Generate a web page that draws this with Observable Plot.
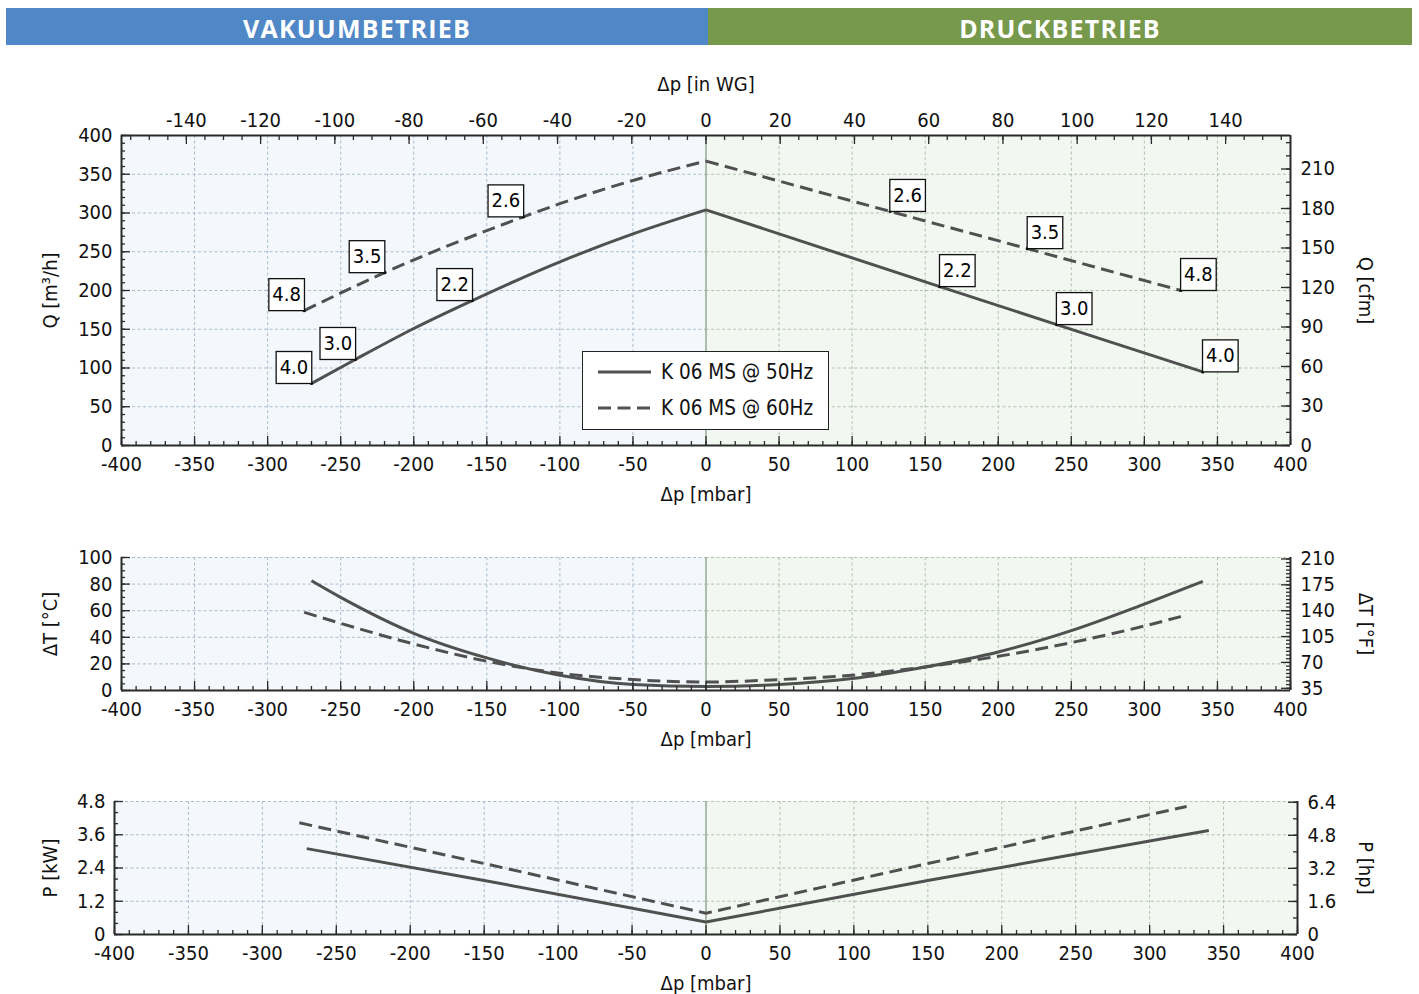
<!DOCTYPE html>
<html>
<head>
<meta charset="utf-8">
<script src="https://cdn.jsdelivr.net/npm/d3@7"></script>
<script src="https://cdn.jsdelivr.net/npm/@observablehq/plot@0.6"></script>
<style>
  html, body { margin: 0; padding: 0; background: #fff; }
  body { position: relative; width: 1419px; height: 994px; overflow: hidden; }
  .hdr { position: absolute; top: 8px; height: 37px; color: #fff; font-family: "Open Sans", sans-serif; font-weight: 700; font-size: 25px; letter-spacing: 1.2px; display: flex; align-items: center; justify-content: center; padding-top: 2px; box-sizing: border-box; }
  .chart { position: absolute; left: 0; }
  #legend { position: absolute; left: 582px; top: 351px; width: 245px; height: 77px; border: 1.5px solid #222; background: #fff; font-family: "DejaVu Sans Condensed", "DejaVu Sans", sans-serif; font-stretch: condensed; font-size: 20.5px; color: #111; }
  #legend .row { position: absolute; left: 0; height: 26px; display: flex; align-items: center; white-space: nowrap; }
  #legend svg { margin-left: 15px; margin-right: 10px; }
</style>
</head>
<body>
<div class="hdr" style="left:6px;width:702px;background:#4f87c7">VAKUUMBETRIEB</div>
<div class="hdr" style="left:708px;width:704px;background:#77994b">DRUCKBETRIEB</div>
<div id="c1" class="chart" style="top:60px"></div>
<div id="c2" class="chart" style="top:530px"></div>
<div id="c3" class="chart" style="top:770px"></div>
<div id="legend"></div>
<script>
// ---------------- DATA ----------------
const legendNames = ["K 06 MS @ 50Hz", "K 06 MS @ 60Hz"];

// Q [m³/h] vs Δp [mbar]
const q50VacDp = [-270, -240, -200, -160, -100, -50, 0];
const q50VacQ  = [80, 111, 151, 187, 237, 273, 304];
const q60VacDp = [-275, -220, -125, -100, -50, 0];
const q60VacQ  = [174, 223, 295, 312, 342, 367];
const q50PrsDp = [0, 160, 240, 340];
const q50PrsQ  = [304, 205, 156, 95];
const q60PrsDp = [0, 126, 220, 325];
const q60PrsQ  = [367, 302, 254, 200];

// point labels on the Q curves
const lblVacDp   = [-270, -240, -160, -275, -220, -125];
const lblVacQ    = [80, 111, 187, 174, 223, 295];
const lblVacText = ["4.0", "3.0", "2.2", "4.8", "3.5", "2.6"];
const lblPrsDp   = [160, 240, 340, 126, 220, 325];
const lblPrsQ    = [205, 156, 95, 302, 254, 200];
const lblPrsText = ["2.2", "3.0", "4.0", "2.6", "3.5", "4.8"];

// ΔT [°C] vs Δp [mbar]
const t50Dp = [-270, -250, -200, -150, -100, -50, 0, 50, 100, 150, 200, 250, 300, 340];
const t50   = [82.5, 70, 43, 24.5, 11.5, 4.5, 3, 4.5, 9, 17.7, 29, 45, 65, 82];
const t60Dp = [-275, -250, -200, -150, -100, -50, 0, 50, 100, 150, 200, 250, 300, 325];
const t60   = [58.8, 50.5, 35, 22, 13, 8.2, 6.4, 8.2, 11.5, 17.7, 25.7, 36, 48.5, 55.6];

// P [kW] vs Δp [mbar]
const p50Dp = [-270, -150, 0, 150, 340];
const p50   = [3.1, 1.95, 0.45, 1.95, 3.75];
const p60Dp = [-275, -150, 0, 150, 325];
const p60   = [4.03, 2.56, 0.77, 2.56, 4.62];

// tick labels
const xTicks   = [-400, -350, -300, -250, -200, -150, -100, -50, 0, 50, 100, 150, 200, 250, 300, 350, 400];
const wgTicks  = [-140, -120, -100, -80, -60, -40, -20, 0, 20, 40, 60, 80, 100, 120, 140];
const qTicks   = [0, 50, 100, 150, 200, 250, 300, 350, 400];
const cfmTicks = [0, 30, 60, 90, 120, 150, 180, 210];
const tTicks   = [0, 20, 40, 60, 80, 100];
const fTicks   = [35, 70, 105, 140, 175, 210];
const pTicks   = [0, 1.2, 2.4, 3.6, 4.8];
const hpTicks  = [0, 1.6, 3.2, 4.8, 6.4];

// unit conversions
const MBAR_PER_INWG = 2.54;
const CFM_PER_M3H = 0.5886;
const HP_PER_KW = 1.341;
const cToF = c => c * 1.8 + 32, fToC = f => (f - 32) / 1.8;

// ---------------- STYLE ----------------
const FONT = '"DejaVu Sans Condensed", "DejaVu Sans", sans-serif';
const AX = "#2a2a2a";
const LINE = "#505050";
const BG_VAC = "#f4f8fd", BG_PRS = "#f2f7f1";
const GRID_VAC = "#a9bccd", GRID_PRS = "#b4c3ab";
const ZERO = "#93a993";
const LBL_FILL = "#010101";
const DASH = "13,6.5";
const W = 1419;

const rows = (dp, v) => dp.map((d, i) => ({dp: d, v: v[i]}));
const lrows = (dp, v, t) => dp.map((d, i) => ({dp: d, v: v[i], t: t[i]}));

function chart(cfg) {
  const {height, mt, mb, ml, mr, yDomain, yMajor, yMinor, rMajor, rMinor, rFmt, lines, labels, titles, topAxis} = cfg;
  const ph = height - mt - mb, pw = W - ml - mr;
  const [y0, y1] = yDomain;
  const xMinor = d3.range(-400, 401, 10);
  const gridX = xTicks.filter(d => d !== 0 && Math.abs(d) !== 400);
  const gridY = yMajor.filter(d => d !== y0 && (topAxis ? d !== y1 : true));
  const tt = {fontSize: 20, fill: "#111", textAnchor: "middle", lineAnchor: "middle", text: d => d};
  const marks = [
    Plot.rect([{}], {x1: -400, x2: 0, y1: y0, y2: y1, fill: BG_VAC}),
    Plot.rect([{}], {x1: 0, x2: 400, y1: y0, y2: y1, fill: BG_PRS}),
    Plot.ruleX(gridX.filter(d => d < 0), {x: d => d, stroke: GRID_VAC, strokeDasharray: "3,2.5", strokeWidth: 1}),
    Plot.ruleX(gridX.filter(d => d > 0), {x: d => d, stroke: GRID_PRS, strokeDasharray: "3,2.5", strokeWidth: 1}),
    Plot.ruleY(gridY, {y: d => d, x1: -400, x2: 0, stroke: GRID_VAC, strokeDasharray: "3,2.5", strokeWidth: 1}),
    Plot.ruleY(gridY, {y: d => d, x1: 0, x2: 400, stroke: GRID_PRS, strokeDasharray: "3,2.5", strokeWidth: 1}),
    Plot.ruleX([0], {x: d => d, stroke: ZERO, strokeWidth: 1.5}),
  ];
  for (const L of lines) {
    marks.push(Plot.line(L.data, {x: "dp", y: "v", curve: L.curve, stroke: LINE, strokeWidth: 3,
      strokeDasharray: L.dashed ? DASH : null, strokeLinecap: "butt"}));
  }
  if (labels) {
    marks.push(Plot.dot(labels.vac.concat(labels.prs), {x: "dp", y: "v", r: 1.6, fill: "#111"}));
    marks.push(Plot.text(labels.vac, {x: "dp", y: "v", text: "t", dx: -17.5, dy: -16, fontSize: 20, fill: LBL_FILL, textAnchor: "middle", lineAnchor: "middle"}));
    marks.push(Plot.text(labels.prs, {x: "dp", y: "v", text: "t", dx: 17.5, dy: -16, fontSize: 20, fill: LBL_FILL, textAnchor: "middle", lineAnchor: "middle"}));
  }
  // ticks (inward)
  marks.push(
    Plot.tickX(xMinor, {x: d => d, insetTop: ph - 4, stroke: AX, strokeWidth: 1.3}),
    Plot.tickX(xTicks, {x: d => d, insetTop: ph - 9, stroke: AX, strokeWidth: 1.3}),
    Plot.tickY(yMinor, {y: d => d, insetRight: pw - 4, stroke: AX, strokeWidth: 1.3}),
    Plot.tickY(yMajor, {y: d => d, insetRight: pw - 9, stroke: AX, strokeWidth: 1.3}),
    Plot.tickY(rMinor, {y: d => d, insetLeft: pw - 4, stroke: AX, strokeWidth: 1.3}),
    Plot.tickY(rMajor, {y: d => d, insetLeft: pw - 9, stroke: AX, strokeWidth: 1.3}),
    Plot.ruleX([-400, 400], {x: d => d, stroke: AX, strokeWidth: 2}),
    Plot.ruleY([y0], {y: d => d, stroke: AX, strokeWidth: 2}),
  );
  if (topAxis) {
    const wgMinor = d3.range(-155, 156, 5).map(v => v * MBAR_PER_INWG);
    marks.push(
      Plot.tickX(wgMinor, {x: d => d, insetBottom: ph - 5, stroke: AX, strokeWidth: 1.3}),
      Plot.tickX(wgTicks.map(v => v * MBAR_PER_INWG), {x: d => d, insetBottom: ph - 9, stroke: AX, strokeWidth: 1.3}),
      Plot.ruleY([y1], {y: d => d, stroke: AX, strokeWidth: 2}),
      Plot.axisX(wgTicks.map(v => v * MBAR_PER_INWG), {anchor: "top", tickSize: 0, tickPadding: 9, fontSize: 20, label: null,
        tickFormat: d => String(Math.round(d / MBAR_PER_INWG))}),
      Plot.text([titles.top], {...tt, frameAnchor: "top", dy: -51})
    );
  }
  marks.push(
    Plot.axisX(xTicks, {anchor: "bottom", tickSize: 0, tickPadding: 11, fontSize: 20, label: null, tickFormat: d => String(d)}),
    Plot.axisY(yMajor, {anchor: "left", tickSize: 0, tickPadding: 9, fontSize: 20, label: null, tickFormat: d => String(d)}),
    Plot.axisY(rMajor, {anchor: "right", tickSize: 0, tickPadding: 10, fontSize: 20, label: null, tickFormat: rFmt}),
    Plot.text([titles.bottom], {...tt, frameAnchor: "bottom", dy: 49}),
    Plot.text([titles.left], {...tt, frameAnchor: "left", dx: 50 - ml, rotate: -90}),
    Plot.text([titles.right], {...tt, frameAnchor: "right", dx: 1365 - (W - mr), rotate: 90})
  );
  return Plot.plot({
    width: W, height, marginTop: mt, marginBottom: mb, marginLeft: ml, marginRight: mr,
    x: {domain: [-400, 400]},
    y: {domain: yDomain},
    style: {fontFamily: FONT, fontStretch: "condensed", fontSize: "20px", color: "#111", background: "transparent", overflow: "visible"},
    marks
  });
}

// ---------- chart 1 : Q ----------
const c1 = chart({
  height: 445, mt: 75, mb: 60, ml: 121, mr: 129,
  yDomain: [0, 400], yMajor: qTicks, yMinor: d3.range(0, 401, 10),
  rMajor: cfmTicks.map(c => c / CFM_PER_M3H), rMinor: d3.range(0, 235, 10).map(c => c / CFM_PER_M3H),
  rFmt: d => String(Math.round(d * CFM_PER_M3H)),
  lines: [
    {data: rows(q50VacDp, q50VacQ), curve: "monotone-x", dashed: false},
    {data: rows(q50PrsDp, q50PrsQ), curve: "linear", dashed: false},
    {data: rows(q60VacDp, q60VacQ), curve: "monotone-x", dashed: true},
    {data: rows(q60PrsDp, q60PrsQ), curve: "linear", dashed: true},
  ],
  labels: {vac: lrows(lblVacDp, lblVacQ, lblVacText), prs: lrows(lblPrsDp, lblPrsQ, lblPrsText)},
  titles: {top: "Δp [in WG]", bottom: "Δp [mbar]", left: "Q [m³/h]", right: "Q [cfm]"},
  topAxis: true
});
document.getElementById("c1").append(c1);

// ---------- chart 2 : ΔT ----------
const c2 = chart({
  height: 220, mt: 27, mb: 60, ml: 121, mr: 129,
  yDomain: [0, 100], yMajor: tTicks, yMinor: d3.range(0, 101, 5),
  rMajor: fTicks.map(fToC), rMinor: d3.range(35, 211, 5).map(fToC),
  rFmt: d => String(Math.round(cToF(d))),
  lines: [
    {data: rows(t50Dp, t50), curve: "monotone-x", dashed: false},
    {data: rows(t60Dp, t60), curve: "monotone-x", dashed: true},
  ],
  titles: {bottom: "Δp [mbar]", left: "ΔT [°C]", right: "ΔT [°F]"},
  topAxis: false
});
document.getElementById("c2").append(c2);

// ---------- chart 3 : P ----------
const c3 = chart({
  height: 224, mt: 31, mb: 60, ml: 114, mr: 122,
  yDomain: [0, 4.8], yMajor: pTicks, yMinor: d3.range(0, 4.81, 0.4),
  rMajor: hpTicks.map(h => h / HP_PER_KW), rMinor: d3.range(0, 6.41, 0.8).map(h => h / HP_PER_KW),
  rFmt: d => String(+(d * HP_PER_KW).toFixed(1)),
  lines: [
    {data: rows(p50Dp, p50), curve: "linear", dashed: false},
    {data: rows(p60Dp, p60), curve: "linear", dashed: true},
  ],
  titles: {bottom: "Δp [mbar]", left: "P [kW]", right: "P [hp]"},
  topAxis: false
});
document.getElementById("c3").append(c3);

// ---------- boxes behind point labels ----------
c1.querySelectorAll(`g[fill="${LBL_FILL}"] text`).forEach(t => {
  const b = t.getBBox();
  const w = Math.max(35, b.width + 7), h = 32;
  const r = document.createElementNS("http://www.w3.org/2000/svg", "rect");
  r.setAttribute("x", -w / 2); r.setAttribute("y", -h / 2);
  r.setAttribute("width", w); r.setAttribute("height", h);
  const tr = t.getAttribute("transform"); if (tr) r.setAttribute("transform", tr);
  r.setAttribute("fill", "#fff"); r.setAttribute("stroke", "#111"); r.setAttribute("stroke-width", "1.3");
  t.parentNode.insertBefore(r, t);
});

// ---------- legend ----------
const leg = document.getElementById("legend");
legendNames.forEach((name, i) => {
  const row = document.createElement("div");
  row.className = "row";
  row.style.top = (i === 0 ? 7 : 43) + "px";
  row.innerHTML = `<svg width="53" height="6"><line x1="0" y1="3" x2="53" y2="3" stroke="${LINE}" stroke-width="3" ${i === 1 ? `stroke-dasharray="${DASH}"` : ""}/></svg><span>${name}</span>`;
  leg.append(row);
});
</script>
</body>
</html>
